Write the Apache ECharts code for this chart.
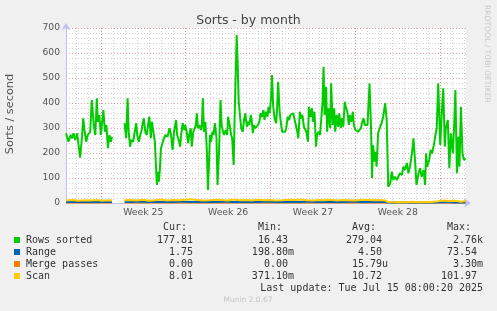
<!DOCTYPE html>
<html><head><meta charset="utf-8">
<script src="https://cdn.jsdelivr.net/npm/echarts@6/dist/echarts.min.js"></script>
<style>html,body{margin:0;padding:0;background:#f0f0f0}#c{width:497px;height:311px}</style>
</head><body><div id="c"></div>
<script>
// ---- data (hours since start of the 33-day window) ----
const hours = [0,5,9,12,15,18,22,25,28,32,34,37,40,43,46,48,51,55,58,61,63,66,69,71,74,77,80,83,86,89,91,
103,
116,119,122,124,127,129,133,136,139,141,144,147,149,152,154,157,160,162,165,168,170,173,176,178,180,182,184,186,188,191,194,197,
201,205,208,211,214,218,220,223,226,228,231,234,236,239,242,244,247,249,252,255,257,259,261,264,267,269,271,273,276,279,281,283,285,287,290,292,295,298,300,
303,306,308,311,313,316,319,321,324,327,329,332,334,336,338,340,342,345,347,350,352,355,358,360,363,366,368,370,372,375,377,380,383,385,388,391,393,396,399,401,403,406,
408,410,413,416,418,420,423,426,428,431,434,436,439,442,444,447,450,452,455,458,460,463,465,468,471,473,476,479,481,484,487,489,492,495,497,500,503,505,508,
510,512,515,517,520,523,525,528,531,533,536,539,541,544,546,549,552,554,557,560,562,565,568,570,573,576,578,581,584,586,589,592,594,597,600,601,604,606,608,611,613,
615,618,622,625,628,632,635,638,642,645,648,651,655,658,661,665,668,671,675,678,681,685,688,691,694,698,701,704,708,711,713,715,719,722,725,729,732,734,737,741,744,747,750,752,756,759,762,766,769,771,774,777,779,782,785,788,791];
const rowsSorted = [279,245,272,259,279,252,279,285,181,272,339,285,245,272,272,285,412,312,272,419,325,352,272,312,372,285,312,219,272,245,265,
null,
319,259,419,285,225,252,245,285,319,272,245,272,285,319,339,285,272,305,345,259,325,332,245,152,72,125,85,139,219,225,259,272,
265,299,272,212,285,332,272,252,225,272,319,292,312,285,239,272,299,225,285,299,312,359,299,312,292,312,419,285,325,205,52,152,272,245,285,272,319,259,72,
205,412,312,285,272,292,272,345,312,272,259,152,352,512,672,552,405,339,299,285,325,359,305,325,312,352,325,279,312,299,305,312,325,359,345,372,332,365,345,385,359,419,
512,392,339,319,379,485,365,312,285,292,285,299,345,332,352,352,359,339,312,285,259,365,339,352,305,312,285,245,385,345,379,325,365,225,272,285,272,279,405,
545,352,465,285,379,299,479,312,379,285,352,305,359,299,339,305,405,385,365,312,352,325,365,312,292,285,285,279,299,319,339,312,319,312,305,479,299,99,232,165,205,
145,279,305,319,345,399,332,65,79,125,92,105,92,99,119,112,145,132,159,119,145,199,259,172,72,119,139,105,132,72,199,145,172,212,199,239,279,299,479,232,359,459,225,299,332,139,279,199,332,452,119,265,145,385,199,172,178];

const smallHours = [0,12,24,36,48,60,72,84,91,103,116,
128,140,152,164,176,188,200,212,224,236,248,260,272,284,296,308,320,332,344,356,368,380,392,404,416,428,440,452,464,476,488,500,512,524,536,548,560,572,584,596,608,620,632,
638,650,662,674,686,698,710,722,734,746,758,770,782,791];
const rangeVals = [4,5,4,4,5,4,5,4,4,null,5,
4,5,5,4,5,4,5,4,5,5,4,5,4,5,4,5,5,4,5,4,5,4,5,5,4,5,4,5,4,5,5,4,5,4,5,4,5,5,4,5,4,5,4,
2,2,2,3,2,2,2,3,2,4,3,2,2,1.75];
const mergeVals = [0,0,0,0,0,0,0,0,0,null,0,
0,0,0,0,0,0,0,0,0,0,0,0,0,0,0,0,0,0,0,0,0,0,0,0,0,0,0,0,0,0,0,0,0,0,0,0,0,0,0,0,0,0,0,
0,0,0,0,0,0,0,0,0,0,0,0,0,0];
const scanVals = [10,12,9,11,10,12,9,11,10,null,11,
12,10,13,9,11,14,10,12,11,13,15,12,10,11,13,12,10,14,11,12,10,13,11,12,10,11,13,12,14,11,10,12,11,13,10,12,11,10,12,13,11,12,10,
4,3,4,3,5,3,4,4,6,10,8,9,5,8.01];

const weekLabels = ['Week 25','Week 26','Week 27','Week 28'];
const seriesNames = ['Rows sorted','Range','Merge passes','Scan'];
const curStr = ['177.81','1.75','0.00','8.01'];
const minStr = ['16.43','198.80m','0.00','371.10m'];
const avgStr = ['279.04','4.50','15.79u','10.72'];
const maxStr = ['2.76k','73.54','3.30m','101.97'];
const colors = ['#00cc00','#0066b3','#ff8000','#ffcc00'];

// ---- layout ----
const TOTAL_H = 792;      // 33 days
const WEEK0 = 69;         // hour of first week boundary in the window
const cats = Array.from({length: TOTAL_H + 1}, (_, i) => String(i));
const axisCol = '#c0c0ee';
const majorGrid = 'rgba(225,110,110,0.65)';
const minorGrid = '#d4d4d4';
const mono = '"DejaVu Sans Mono", monospace';
const sans = '"DejaVu Sans", sans-serif';

const chart = echarts.init(document.getElementById('c'), null, {renderer: 'canvas'});

const graphics = [];
graphics.push({type:'text', x:10.5, y:114, rotation:Math.PI/2,
  style:{text:'Sorts / second', font:'11.3px ' + sans, fill:'#555', align:'center', verticalAlign:'middle'}});
graphics.push({type:'text', x:487, y:5, rotation:-Math.PI/2,
  style:{text:'RRDTOOL / TOBI OETIKER', font:'7.6px ' + sans, fill:'#c8c8c8', align:'left', verticalAlign:'middle'}});
const colRight = [193, 288, 382, 477];
const headers = ['Cur:','Min:','Avg:','Max:'];
headers.forEach((h, i) => graphics.push({type:'text', x: colRight[i] - 6, y: 227,
  style:{text:h, font:'10px ' + mono, fill:'#333', align:'right', verticalAlign:'middle'}}));
const cols = [curStr, minStr, avgStr, maxStr];
seriesNames.forEach((name, r) => {
  const y = 240 + r * 12;
  graphics.push({type:'rect', shape:{x:14, y:y-3, width:6, height:6}, style:{fill:colors[r]}});
  graphics.push({type:'text', x:26, y:y, style:{text:name, font:'10px ' + mono, fill:'#333', align:'left', verticalAlign:'middle'}});
  cols.forEach((col, c) => {
    const s = col[r];
    const hasUnit = /[a-z]$/i.test(s);
    graphics.push({type:'text', x: colRight[c] + (hasUnit ? 6 : 0), y:y,
      style:{text:s, font:'10px ' + mono, fill:'#333', align:'right', verticalAlign:'middle'}});
  });
});
graphics.push({type:'text', x:483, y:288, style:{text:'Last update: Tue Jul 15 08:00:20 2025', font:'10px ' + mono, fill:'#333', align:'right', verticalAlign:'middle'}});
graphics.push({type:'text', x:248, y:300, style:{text:'Munin 2.0.67', font:'7.5px ' + sans, fill:'#c4c4c4', align:'center', verticalAlign:'middle'}});

function lineSeries(name, xs, ys, color, width, z) {
  return {name, type:'line', xAxisIndex:2, yAxisIndex:0, data: xs.map((h, i) => [h, ys[i]]),
    symbol:'none', showSymbol:false, connectNulls:false, animation:false, z,
    lineStyle:{color, width}, itemStyle:{color}};
}

chart.setOption({
  backgroundColor:'#f0f0f0',
  animation:false,
  title:{text:'Sorts - by month', left:'center', top:9,
    textStyle:{fontFamily:sans, fontSize:12.5, fontWeight:'normal', color:'#444'}},
  grid:{left:66, right:31, top:28, bottom:108, show:true, backgroundColor:'#ffffff', borderWidth:0},
  xAxis:[
    {type:'category', data:cats, boundaryGap:false, position:'bottom',
      axisLine:{show:true, lineStyle:{color:axisCol, width:1}, symbol:['none','arrow'], symbolSize:[7,7], symbolOffset:[0,5]},
      axisTick:{show:false},
      axisLabel:{interval:(i) => i >= WEEK0 + 84 && (i - WEEK0 - 84) % 168 === 0, margin:5,
        formatter:(v, i) => weekLabels[Math.round((Number(v) - WEEK0 - 84) / 168)] || '',
        fontFamily:sans, fontSize:9.3, color:'#555'},
      splitLine:{show:true, interval:(i) => i % 24 === WEEK0 % 24, lineStyle:{color:minorGrid, type:[1,2], width:1}}},
    {type:'category', data:cats, boundaryGap:false, position:'bottom',
      axisLine:{show:false}, axisTick:{show:false}, axisLabel:{show:false},
      splitLine:{show:true, interval:(i) => i >= WEEK0 && (i - WEEK0) % 168 === 0, lineStyle:{color:majorGrid, type:[1,2], width:1}}},
    {type:'value', min:0, max:TOTAL_H, show:false}
  ],
  yAxis:[{type:'value', min:0, max:700, interval:100,
    axisLine:{show:true, lineStyle:{color:axisCol, width:1}, symbol:['none','arrow'], symbolSize:[7,7], symbolOffset:[0,5]},
    axisTick:{show:false},
    axisLabel:{fontFamily:sans, fontSize:9.2, color:'#555', margin:6},
    splitLine:{show:true, lineStyle:{color:majorGrid, type:[1,2], width:1}},
    minorTick:{show:false, splitNumber:5},
    minorSplitLine:{show:true, lineStyle:{color:minorGrid, type:[1,2], width:1}}}],
  graphic: graphics,
  series:[
    lineSeries(seriesNames[0], hours, rowsSorted, colors[0], 2, 3),
    lineSeries(seriesNames[2], smallHours, mergeVals, colors[2], 1.5, 3),
    lineSeries(seriesNames[1], smallHours, rangeVals, colors[1], 2, 4),
    lineSeries(seriesNames[3], smallHours, scanVals, colors[3], 2, 5)
  ]
});
</script></body></html>
